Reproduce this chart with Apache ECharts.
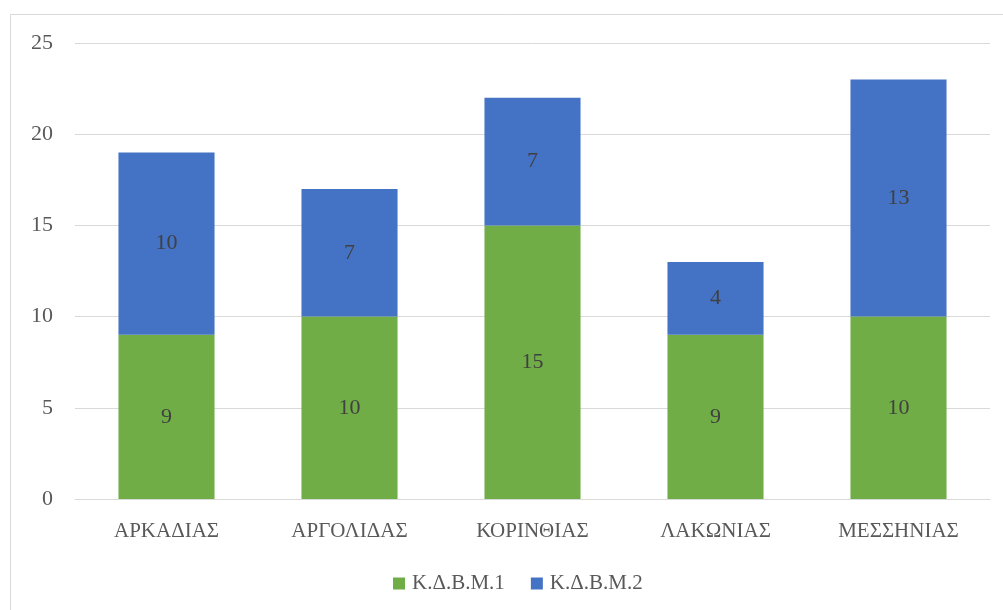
<!DOCTYPE html>
<html><head><meta charset="utf-8">
<script src="https://cdn.jsdelivr.net/npm/echarts@6/dist/echarts.min.js"></script>
<style>html,body{margin:0;padding:0;background:#fff}#c{width:1003px;height:610px}</style>
</head><body><div id="c"></div>
<script>
const categories = ['ΑΡΚΑΔΙΑΣ','ΑΡΓΟΛΙΔΑΣ','ΚΟΡΙΝΘΙΑΣ','ΛΑΚΩΝΙΑΣ','ΜΕΣΣΗΝΙΑΣ'];
const seriesNames = ['Κ.Δ.Β.Μ.1','Κ.Δ.Β.Μ.2'];
const kdbm1 = [9,10,15,9,10];
const kdbm2 = [10,7,7,4,13];
const yTicks = [0,5,10,15,20,25];

const font = '"Liberation Serif", "DejaVu Serif", serif';
const chart = echarts.init(document.getElementById('c'), null, {renderer:'canvas'});
const lbl = {show:true, position:'inside', color:'#404040', fontSize:22, fontFamily:font};
chart.setOption({
  animation:false,
  graphic:[{type:'rect', shape:{x:10.5,y:14.5,width:1000,height:700}, style:{fill:'none', stroke:'#d9d9d9', lineWidth:1}}],
  grid:{left:75, right:13, top:43, bottom:111, containLabel:false},
  legend:{top:568, left:388, itemWidth:12, itemHeight:12, itemGap:26, icon:'rect',
    textStyle:{color:'#595959', fontSize:21, fontFamily:font, padding:[0,0,0,2]}, data:seriesNames},
  xAxis:{type:'category', data:categories, axisLine:{lineStyle:{color:'#d9d9d9'}}, axisTick:{show:false},
    axisLabel:{color:'#595959', fontSize:21, fontFamily:font, margin:22}},
  yAxis:{type:'value', min:yTicks[0], max:yTicks[yTicks.length-1], interval:5,
    axisLine:{show:false}, axisTick:{show:false},
    splitLine:{lineStyle:{color:'#d9d9d9'}},
    axisLabel:{color:'#595959', fontSize:22, fontFamily:font, margin:22}},
  series:[
    {name:seriesNames[0], type:'bar', stack:'s', data:kdbm1, barWidth:'52.5%', itemStyle:{color:'#70AD47'}, label:lbl},
    {name:seriesNames[1], type:'bar', stack:'s', data:kdbm2, barWidth:'52.5%', itemStyle:{color:'#4472C4'}, label:lbl}
  ]
});
</script></body></html>
